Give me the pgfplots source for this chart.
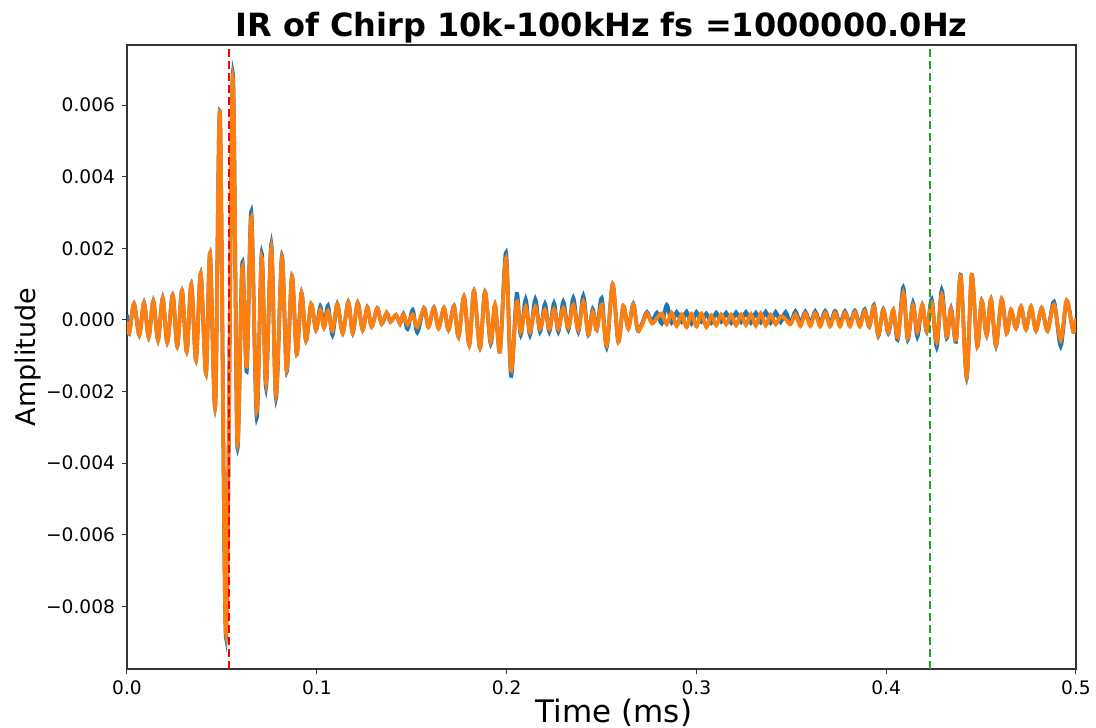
\documentclass[border=0pt]{standalone}
\usepackage{pgfplots}
\pgfplotsset{compat=1.18}
\usepackage{pgfplotstable}
\usepackage{fontspec}
\setmainfont{DejaVu Sans}
\definecolor{mplblue}{HTML}{1F77B4}
\definecolor{mplorange}{HTML}{FF7F0E}
\definecolor{mplgreen}{HTML}{2CA02C}
\definecolor{mplred}{HTML}{FF0000}
\pgfplotstableread{
x b o
0.00000 0.15e-3 -0.05e-3
0.00121 -0.37e-3 -0.37e-3
0.00369 0.45e-3 0.44e-3
0.00648 -0.42e-3 -0.42e-3
0.00896 0.48e-3 0.47e-3
0.01143 -0.48e-3 -0.48e-3
0.01386 0.53e-3 0.52e-3
0.01633 -0.56e-3 -0.56e-3
0.01881 0.61e-3 0.60e-3
0.02123 -0.63e-3 -0.63e-3
0.02408 0.70e-3 0.69e-3
0.02650 -0.74e-3 -0.74e-3
0.02898 0.82e-3 0.81e-3
0.03145 -0.88e-3 -0.88e-3
0.03388 1.00e-3 0.99e-3
0.03635 -1.12e-3 -1.12e-3
0.03883 1.30e-3 1.29e-3
0.04162 -1.49e-3 -1.49e-3
0.04373 1.86e-3 1.85e-3
0.04652 -2.42e-3 -2.42e-3
0.04900 5.77e-3 5.75e-3
0.05216 -8.88e-3 -8.75e-3
0.05569 6.85e-3 6.72e-3
0.05811 -3.52e-3 -3.40e-3
0.06075 1.61e-3 1.48e-3
0.06307 -1.44e-3 -1.30e-3
0.06549 3.03e-3 2.85e-3
0.06834 -2.73e-3 -2.54e-3
0.07097 1.87e-3 1.73e-3
0.07324 -1.89e-3 -1.76e-3
0.07603 2.12e-3 2.01e-3
0.07850 -2.19e-3 -2.08e-3
0.08166 1.79e-3 1.74e-3
0.08414 -1.45e-3 -1.40e-3
0.08693 1.23e-3 1.22e-3
0.08941 -0.96e-3 -0.95e-3
0.09194 0.76e-3 0.75e-3
0.09431 -0.58e-3 -0.57e-3
0.09705 0.44e-3 0.44e-3
0.09958 -0.28e-3 -0.28e-3
0.10185 0.38e-3 0.28e-3
0.10379 -0.20e-3 -0.22e-3
0.10590 0.40e-3 0.25e-3
0.10827 -0.42e-3 -0.30e-3
0.11080 0.45e-3 0.44e-3
0.11365 -0.37e-3 -0.37e-3
0.11660 0.50e-3 0.49e-3
0.11892 -0.37e-3 -0.36e-3
0.12155 0.48e-3 0.47e-3
0.12418 -0.28e-3 -0.28e-3
0.12661 0.36e-3 0.35e-3
0.12892 -0.19e-3 -0.19e-3
0.13188 0.33e-3 0.32e-3
0.13419 -0.11e-3 -0.11e-3
0.13683 0.20e-3 0.20e-3
0.13883 -0.05e-3 -0.05e-3
0.14173 0.14e-3 0.14e-3
0.14384 -0.11e-3 -0.10e-3
0.14568 0.17e-3 0.14e-3
0.14779 -0.25e-3 -0.12e-3
0.15053 0.28e-3 0.15e-3
0.15295 -0.35e-3 -0.20e-3
0.15648 0.33e-3 0.32e-3
0.15885 -0.19e-3 -0.19e-3
0.16175 0.35e-3 0.34e-3
0.16412 -0.23e-3 -0.23e-3
0.16702 0.33e-3 0.33e-3
0.16939 -0.28e-3 -0.28e-3
0.17229 0.39e-3 0.38e-3
0.17466 -0.47e-3 -0.47e-3
0.17756 0.65e-3 0.64e-3
0.18035 -0.70e-3 -0.70e-3
0.18282 0.82e-3 0.81e-3
0.18598 -0.79e-3 -0.79e-3
0.18862 0.79e-3 0.78e-3
0.19162 -0.67e-3 -0.61e-3
0.19389 0.42e-3 0.42e-3
0.19652 -0.88e-3 -0.88e-3
0.19968 1.88e-3 1.72e-3
0.20232 -1.56e-3 -1.40e-3
0.20532 0.73e-3 0.51e-3
0.20743 -0.42e-3 -0.33e-3
0.21006 0.58e-3 0.37e-3
0.21233 -0.42e-3 -0.33e-3
0.21512 0.58e-3 0.37e-3
0.21760 -0.33e-3 -0.25e-3
0.22023 0.45e-3 0.28e-3
0.22250 -0.33e-3 -0.25e-3
0.22497 0.47e-3 0.30e-3
0.22724 -0.33e-3 -0.25e-3
0.22987 0.51e-3 0.33e-3
0.23251 -0.28e-3 -0.22e-3
0.23514 0.61e-3 0.42e-3
0.23778 -0.33e-3 -0.28e-3
0.24041 0.67e-3 0.51e-3
0.24305 -0.42e-3 -0.40e-3
0.24537 0.30e-3 0.22e-3
0.24747 -0.28e-3 -0.28e-3
0.25011 0.61e-3 0.42e-3
0.25274 -0.76e-3 -0.70e-3
0.25590 1.00e-3 1.00e-3
0.25885 -0.61e-3 -0.61e-3
0.26149 0.39e-3 0.39e-3
0.26412 -0.23e-3 -0.25e-3
0.26676 0.45e-3 0.42e-3
0.26907 -0.30e-3 -0.28e-3
0.27134 -0.10e-3 -0.15e-3
0.27395 0.22e-3 0.18e-3
0.27656 -0.05e-3 -0.10e-3
0.27917 0.20e-3 0.05e-3
0.28178 -0.10e-3 0.18e-3
0.28438 0.42e-3 -0.12e-3
0.28699 -0.08e-3 0.20e-3
0.28960 0.22e-3 -0.17e-3
0.29221 -0.05e-3 0.15e-3
0.29482 0.23e-3 -0.20e-3
0.29742 -0.10e-3 0.17e-3
0.30003 0.22e-3 -0.18e-3
0.30264 -0.05e-3 0.18e-3
0.30525 0.18e-3 -0.20e-3
0.30786 -0.08e-3 0.12e-3
0.31046 0.20e-3 -0.15e-3
0.31307 -0.05e-3 0.15e-3
0.31568 0.20e-3 -0.12e-3
0.31829 -0.08e-3 0.14e-3
0.32090 0.21e-3 -0.15e-3
0.32350 -0.06e-3 0.15e-3
0.32611 0.22e-3 -0.14e-3
0.32872 -0.08e-3 0.16e-3
0.33133 0.20e-3 -0.16e-3
0.33394 -0.07e-3 0.18e-3
0.33654 0.23e-3 -0.15e-3
0.33915 -0.08e-3 0.14e-3
0.34176 0.22e-3 -0.12e-3
0.34437 -0.06e-3 0.10e-3
0.34698 0.22e-3 0.02e-3
0.34958 -0.08e-3 -0.12e-3
0.35219 0.24e-3 0.15e-3
0.35480 -0.08e-3 -0.17e-3
0.35741 0.23e-3 0.18e-3
0.36002 -0.09e-3 -0.17e-3
0.36262 0.24e-3 0.19e-3
0.36523 -0.09e-3 -0.18e-3
0.36784 0.25e-3 0.20e-3
0.37045 -0.10e-3 -0.18e-3
0.37306 0.25e-3 0.20e-3
0.37566 -0.10e-3 -0.18e-3
0.37827 0.24e-3 0.20e-3
0.38088 -0.10e-3 -0.18e-3
0.38349 0.26e-3 0.22e-3
0.38610 -0.12e-3 -0.18e-3
0.38870 0.30e-3 0.25e-3
0.39109 -0.19e-3 -0.19e-3
0.39357 0.42e-3 0.38e-3
0.39584 -0.45e-3 -0.42e-3
0.39847 0.30e-3 0.28e-3
0.40111 -0.37e-3 -0.33e-3
0.40374 0.28e-3 0.28e-3
0.40606 -0.56e-3 -0.48e-3
0.40901 0.91e-3 0.74e-3
0.41133 -0.56e-3 -0.50e-3
0.41413 0.48e-3 0.40e-3
0.41640 -0.47e-3 -0.33e-3
0.41903 0.42e-3 0.42e-3
0.42134 -0.33e-3 -0.30e-3
0.42398 0.58e-3 0.47e-3
0.42661 -0.76e-3 -0.61e-3
0.42925 0.84e-3 0.70e-3
0.43188 -0.51e-3 -0.45e-3
0.43414 0.33e-3 0.30e-3
0.43678 -0.61e-3 -0.55e-3
0.43925 1.26e-3 1.22e-3
0.44241 -1.63e-3 -1.58e-3
0.44505 1.26e-3 1.26e-3
0.44800 -0.74e-3 -0.74e-3
0.45032 0.54e-3 0.54e-3
0.45295 -0.42e-3 -0.42e-3
0.45522 0.58e-3 0.58e-3
0.45785 -0.73e-3 -0.70e-3
0.46085 0.58e-3 0.58e-3
0.46349 -0.37e-3 -0.37e-3
0.46575 0.28e-3 0.28e-3
0.46839 -0.23e-3 -0.23e-3
0.47102 0.37e-3 0.37e-3
0.47366 -0.26e-3 -0.26e-3
0.47629 0.37e-3 0.37e-3
0.47893 -0.30e-3 -0.30e-3
0.48193 0.33e-3 0.33e-3
0.48499 -0.30e-3 -0.30e-3
0.48841 0.51e-3 0.42e-3
0.49194 -0.73e-3 -0.56e-3
0.49510 0.54e-3 0.54e-3
0.49858 -0.33e-3 -0.33e-3
0.50000 0.05e-3 0.05e-3
}\irdata
\begin{document}
\begin{tikzpicture}
\useasboundingbox (-63.5bp,-29.5bp) rectangle (484.5bp,334.5bp);
\begin{axis}[
  scale only axis, width=474.5bp, height=312bp,
  xmin=0, xmax=0.5, ymin=-0.00975, ymax=0.00768,
  xtick={0,0.1,0.2,0.3,0.4,0.5},
  xticklabels={0.0,0.1,0.2,0.3,0.4,0.5},
  ytick={-0.008,-0.006,-0.004,-0.002,0,0.002,0.004,0.006},
  yticklabels={−0.008,−0.006,−0.004,−0.002,0.000,0.002,0.004,0.006},
  scaled y ticks=false, scaled x ticks=false,
  tick align=outside, xtick pos=left, ytick pos=left,
  major tick length=2.5bp,
  tick style={black!80, line width=0.5bp},
  axis line style={black!80, line width=0.6bp},
  tick label style={font=\fontsize{9.3bp}{11bp}\selectfont},
  title={IR of Chirp 10k-100kHz fs =1000000.0Hz},
  title style={at={(axis description cs:0.5,1.0128)}, anchor=base, yshift=-5.5bp,
    font=\bfseries\fontsize{16bp}{18bp}\selectfont},
  xlabel={Time (ms)},
  xlabel style={at={(axis description cs:0.5132,-0.0850)}, anchor=base,
    font=\fontsize{15.5bp}{17bp}\selectfont},
  ylabel={Amplitude},
  ylabel style={at={(axis description cs:-0.0959,0.5)}, anchor=base,
    font=\fontsize{13.5bp}{15bp}\selectfont},
]
\addplot[color=mplblue, line width=1.9bp, smooth, no markers] table[x=x, y=b] {\irdata};
\addplot[color=mplorange, line width=1.9bp, smooth, no markers] table[x=x, y=o] {\irdata};
\addplot[color=mplred, line width=1bp, dash pattern=on 4bp off 2bp] coordinates {(0.0540,-0.00975) (0.0540,0.00768)};
\addplot[color=mplgreen, line width=1bp, dash pattern=on 4bp off 2bp] coordinates {(0.4233,-0.00975) (0.4233,0.00768)};
\end{axis}
\end{tikzpicture}
\end{document}
